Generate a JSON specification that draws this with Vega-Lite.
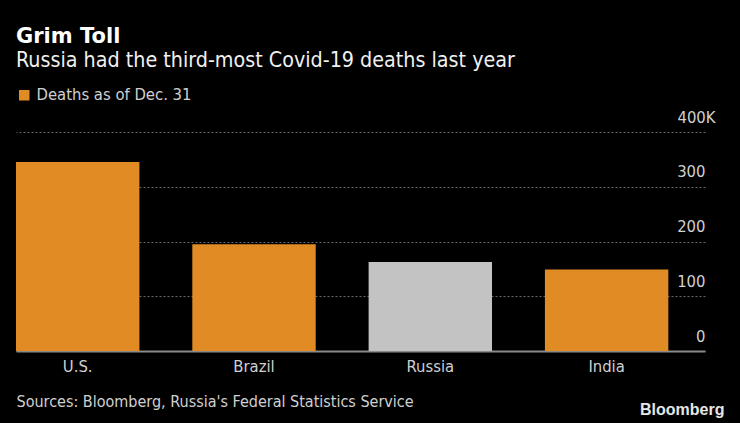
{
  "$schema": "https://vega.github.io/schema/vega-lite/v6.json",
  "autosize": "none",
  "width": 689,
  "height": 219,
  "padding": {"left": 16, "top": 132, "right": 35, "bottom": 72},
  "background": "#000000",
  "title": {
    "text": "Grim Toll",
    "subtitle": "Russia had the third-most Covid-19 deaths last year",
    "anchor": "start",
    "frame": "group",
    "font": "DejaVu Sans",
    "fontSize": 21,
    "fontWeight": "bold",
    "color": "#ffffff",
    "subtitleFont": "DejaVu Sans Condensed, Noto Sans",
    "subtitleFontSize": 21.3,
    "subtitleColor": "#f0f0f0",
    "subtitlePadding": 3,
    "offset": 16
  },
  "data": {
    "values": [
      {"country": "U.S.", "deaths": 345000, "series": "Deaths as of Dec. 31"},
      {"country": "Brazil", "deaths": 194949, "series": "Deaths as of Dec. 31"},
      {"country": "Russia", "deaths": 162429, "series": "Deaths as of Dec. 31"},
      {"country": "India", "deaths": 148738, "series": "Deaths as of Dec. 31"}
    ]
  },
  "mark": {"type": "bar"},
  "encoding": {
    "x": {
      "field": "country",
      "type": "nominal",
      "sort": null,
      "scale": {"paddingInner": 0.3, "paddingOuter": 0.104, "align": 0},
      "axis": {
        "title": "Sources: Bloomberg, Russia's Federal Statistics Service",
        "titleAnchor": "start",
        "titleAlign": "left",
        "titleX": 0,
        "titleY": 55,
        "titleBaseline": "alphabetic",
        "titleFont": "DejaVu Sans Condensed, Noto Sans",
        "titleFontSize": 16,
        "titleFontWeight": "normal",
        "titleColor": "#d0d0d0",
        "labelAngle": 0,
        "labelFont": "DejaVu Sans Condensed, Noto Sans",
        "labelFontSize": 16.5,
        "labelColor": "#d0d0d0",
        "labelPadding": 7,
        "ticks": false,
        "domain": true,
        "domainColor": "#8a8a8a",
        "domainWidth": 2,
        "grid": false
      }
    },
    "y": {
      "field": "deaths",
      "type": "quantitative",
      "scale": {"domain": [0, 400000], "nice": false},
      "axis": {
        "orient": "right",
        "values": [0, 100000, 200000, 300000, 400000],
        "labelExpr": "datum.value == 400000 ? '400K' : format(datum.value / 1000, 'd')",
        "labelAlign": "right",
        "labelBaseline": "alphabetic",
        "labelOffset": -10,
        "labelPadding": {"expr": "datum.value == 400000 ? 10 : 0"},
        "labelFont": "DejaVu Sans Condensed, Noto Sans",
        "labelFontSize": 16.5,
        "labelColor": "#d0d0d0",
        "ticks": false,
        "domain": false,
        "grid": true,
        "gridColor": "#666666",
        "gridDash": [2, 2],
        "gridWidth": 1,
        "title": "Bloomberg",
        "titleAngle": 0,
        "titleAlign": "right",
        "titleBaseline": "alphabetic",
        "titleX": 19,
        "titleY": 282,
        "titleFont": "Liberation Sans",
        "titleFontSize": 16,
        "titleFontWeight": "bold",
        "titleColor": "#e6e6e6"
      }
    },
    "color": {
      "condition": {"test": "datum.country === 'Russia'", "value": "#c3c3c3"},
      "field": "series",
      "type": "nominal",
      "scale": {"range": ["#e08b24"]},
      "legend": {
        "title": null,
        "orient": "none",
        "legendX": 0,
        "legendY": -45,
        "symbolType": "square",
        "symbolSize": 110,
        "symbolStrokeWidth": 0,
        "labelFont": "DejaVu Sans Condensed, Noto Sans",
        "labelFontSize": 16.5,
        "labelColor": "#d0d0d0",
        "labelOffset": 4
      }
    }
  },
  "config": {
    "view": {"stroke": null}
  }
}
